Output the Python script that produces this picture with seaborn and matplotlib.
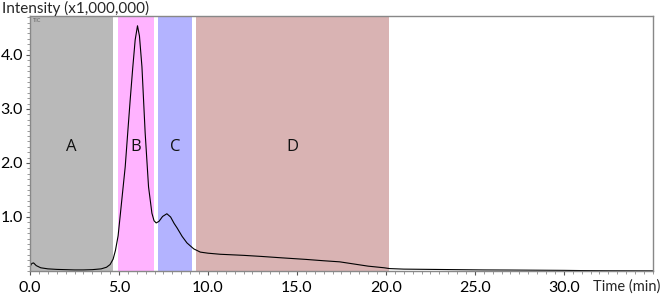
import numpy as np
import pandas as pd
import matplotlib
matplotlib.use("Agg")
import matplotlib.pyplot as plt
import seaborn as sns
from matplotlib.ticker import MultipleLocator

# chromatogram trace (time in min, intensity x1,000,000)
time_min = [0.0, 0.1, 0.2, 0.35, 0.6, 1.0, 1.5, 2.0, 2.5, 3.0, 3.5, 4.0, 4.3, 4.5,
            4.67, 4.8, 4.95, 5.06, 5.2, 5.35, 5.5, 5.63, 5.77, 5.91, 6.04, 6.15,
            6.29, 6.47, 6.66, 6.85, 6.97, 7.09, 7.25, 7.45, 7.69, 7.9, 8.1, 8.26,
            8.55, 8.82, 9.2, 9.57, 10.0, 10.69, 12.0, 13.0, 14.1, 15.5, 16.5,
            17.4, 18.0, 19.0, 19.9, 20.2, 21.0, 22.5, 24.0, 25.5, 27.0, 28.5,
            30.0, 31.0, 32.5, 35.0]
intensity = [0.08, 0.14, 0.15, 0.10, 0.06, 0.04, 0.03, 0.025, 0.02, 0.02, 0.025,
             0.04, 0.07, 0.12, 0.22, 0.38, 0.65, 1.0, 1.45, 1.93, 2.6, 3.17, 3.75,
             4.28, 4.54, 4.35, 3.78, 2.56, 1.56, 1.07, 0.93, 0.89, 0.92, 1.01,
             1.06, 1.0, 0.88, 0.80, 0.64, 0.52, 0.41, 0.35, 0.33, 0.31, 0.29,
             0.27, 0.245, 0.215, 0.19, 0.17, 0.14, 0.09, 0.06, 0.045, 0.035,
             0.03, 0.025, 0.02, 0.018, 0.015, 0.012, 0.008, 0.005, 0.003]

# fraction windows
regions = ["A", "B", "C", "D"]
region_start = [0.0, 4.95, 7.2, 9.3]
region_end = [4.67, 6.95, 9.12, 20.2]
region_colors = ["#b9b9b9", "#ffb3ff", "#b3b3ff", "#d9b3b3"]

df = pd.DataFrame({"Time": time_min, "Intensity": intensity})

sns.set_style("white")
plt.rcParams["font.family"] = ["Lato", "DejaVu Sans"]

fig = plt.figure(figsize=(6.64, 2.97), dpi=100)
ax = fig.add_axes([0.0452, 0.0875, 0.938, 0.8585])

for name, x0, x1, c in zip(regions, region_start, region_end, region_colors):
    ax.axvspan(x0, x1, color=c, lw=0, zorder=0)
    ax.text((x0 + x1) / 2, 2.3, name, ha="center", va="center",
            fontsize=12, family=["Open Sans", "DejaVu Sans"], color="#111111")

sns.lineplot(data=df, x="Time", y="Intensity", color="black", lw=0.8, ax=ax)

ax.set_xlim(0, 35)
ax.set_ylim(0, 4.72)
ax.set_xlabel("")
ax.set_ylabel("")
ax.xaxis.set_minor_locator(MultipleLocator(0.5))
ax.yaxis.set_minor_locator(MultipleLocator(0.1))
ax.set_xticks([0, 5, 10, 15, 20, 25, 30])
ax.set_xticklabels(["0.0", "5.0", "10.0", "15.0", "20.0", "25.0", "30.0"])
ax.set_yticks([1, 2, 3, 4])
ax.set_yticklabels(["1.0", "2.0", "3.0", "4.0"])
ax.tick_params(axis="both", which="major", length=3, width=0.8, color="#555555",
               labelsize=11.5, labelcolor="black", direction="out", pad=2,
               bottom=True, left=True)
ax.tick_params(axis="both", which="minor", length=2, width=0.6, color="#888888",
               direction="out", bottom=True, left=True)
ax.tick_params(axis="x", pad=4)

for s in ["left", "bottom", "top", "right"]:
    ax.spines[s].set_visible(True)
    ax.spines[s].set_color("#888888")
    ax.spines[s].set_linewidth(1.0)

ax.text(0.004, 0.992, "TIC", transform=ax.transAxes, fontsize=4, color="#666666",
        ha="left", va="top")
fig.text(0.003, 0.972, "Intensity (x1,000,000)", fontsize=11, ha="left", va="center")
fig.text(0.995, 0.036, "Time (min)", fontsize=10.5, ha="right", va="center")

fig.savefig("out.png", dpi=100)
